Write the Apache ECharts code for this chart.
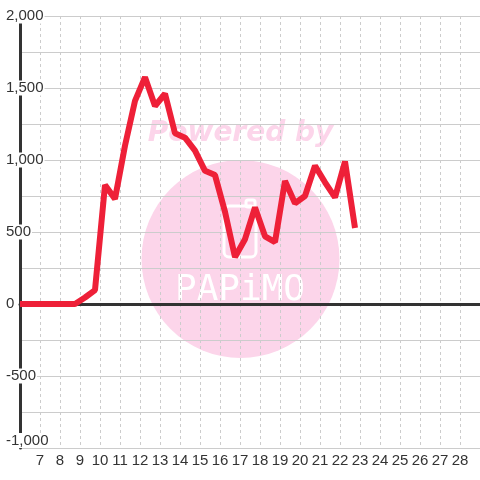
<!DOCTYPE html>
<html>
<head>
<meta charset="utf-8">
<script src="https://cdn.jsdelivr.net/npm/echarts@6/dist/echarts.min.js"></script>
<style>
  html, body { margin: 0; padding: 0; background: #fff; }
  #main { width: 480px; height: 480px; }
</style>
</head>
<body>
<div id="main"></div>
<script>
// x positions of the line's points and their values
const xValues = [6, 6.75, 7.25, 7.75, 8.25, 8.75, 9.25, 9.75, 10.25, 10.75, 11.25, 11.75,
  12.25, 12.75, 13.25, 13.75, 14.25, 14.75, 15.25, 15.75, 16.25, 16.75, 17.25, 17.75,
  18.25, 18.75, 19.25, 19.75, 20.25, 20.75, 21.25, 21.75, 22.25, 22.75];
const yValues = [0, 0, 0, 0, 0, 0, 45, 97, 826, 730, 1100, 1410,
  1575, 1375, 1460, 1185, 1155, 1065, 925, 895, 640, 326, 450, 670,
  470, 430, 855, 700, 750, 960, 845, 740, 990, 528];

const xMin = 6, xMax = 29;
const yMin = -1000, yMax = 2000;

window.onload = function () {
  const dom = document.getElementById('main');
  const myChart = echarts.init(dom);
  const data = xValues.map(function (x, i) { return [x, yValues[i]]; });
  const pink = '#fcd5ea';
  const option = {
    backgroundColor: '#fff',
    animation: false,
    grid: { left: 20, right: 0, top: 16, bottom: 32 },
    graphic: [
      {
        type: 'circle', z: -10, z2: 1,
        shape: { cx: 240.5, cy: 259, r: 99 },
        style: { fill: pink }
      },
      {
        type: 'text', z: -10, z2: 2,
        x: 240.5, y: 134,
        style: {
          text: 'Powered by', fill: pink,
          font: 'italic bold 28px "DejaVu Sans"',
          textAlign: 'center', textVerticalAlign: 'middle'
        }
      },
      {
        type: 'rect', z: -10, z2: 3,
        shape: { x: 224, y: 206, width: 32, height: 51, r: 5 },
        style: { fill: 'none', stroke: '#fff', lineWidth: 3 }
      },
      {
        type: 'rect', z: -10, z2: 3,
        shape: { x: 246, y: 200, width: 9, height: 7, r: 2 },
        style: { fill: 'none', stroke: '#fff', lineWidth: 3 }
      },
      {
        type: 'text', z: -10, z2: 4,
        x: 240, y: 291,
        style: {
          text: 'PAPiMO', fill: '#fff',
          font: '36px "DejaVu Sans Mono"',
          textAlign: 'center', textVerticalAlign: 'middle'
        }
      }
    ],
    xAxis: [
      {
        type: 'value', min: xMin, max: xMax, interval: 1,
        axisLine: { show: false, onZero: false },
        axisTick: { show: false },
        axisLabel: {
          margin: 5, color: '#333', fontSize: 15,
          fontFamily: 'Liberation Sans',
          showMinLabel: false, showMaxLabel: false
        },
        splitLine: { show: true, lineStyle: { color: '#ccc', type: [3, 3], width: 1 } }
      },
      {
        type: 'value', min: xMin, max: xMax,
        axisLine: { show: true, onZero: true, lineStyle: { color: '#333', width: 3 } },
        axisTick: { show: false },
        axisLabel: { show: false },
        splitLine: { show: false }
      }
    ],
    yAxis: {
      type: 'value', min: yMin, max: yMax, interval: 500,
      axisLine: { show: true, lineStyle: { color: '#333', width: 3 } },
      axisTick: { show: false },
      axisLabel: {
        align: 'left', margin: 15, color: '#333', fontSize: 15,
        fontFamily: 'Liberation Sans',
        backgroundColor: '#fff', padding: [0, 1],
        verticalAlignMinLabel: 'bottom'
      },
      splitLine: { show: true, lineStyle: { color: '#ccc', width: 1 } },
      minorTick: { show: false, splitNumber: 2 },
      minorSplitLine: { show: true, lineStyle: { color: '#ccc', width: 1 } }
    },
    series: [
      {
        type: 'line',
        xAxisIndex: 0,
        data: data,
        symbol: 'none',
        lineStyle: { color: '#ee2038', width: 6 }
      }
    ]
  };
  myChart.setOption(option, true);
};
</script>
</body>
</html>
